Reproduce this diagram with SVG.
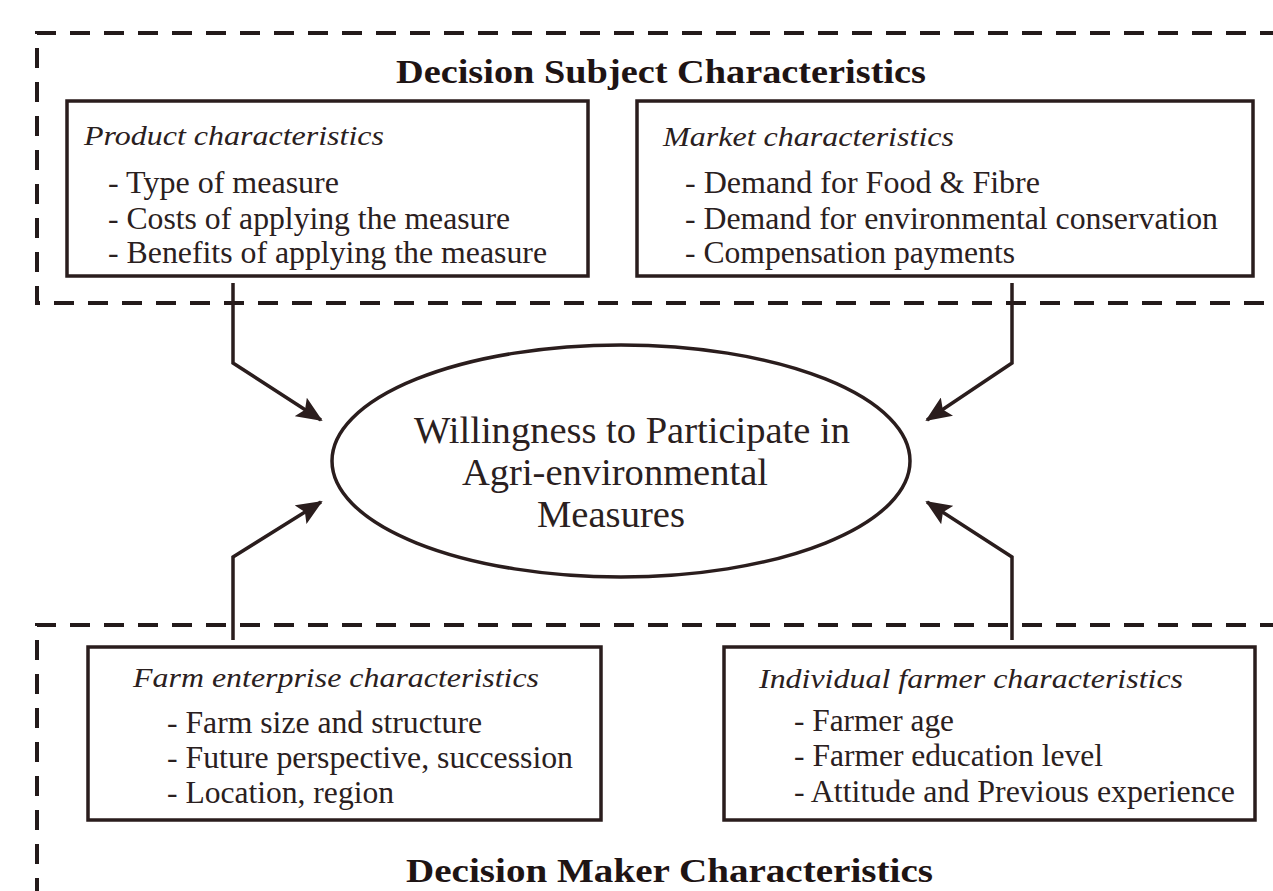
<svg xmlns="http://www.w3.org/2000/svg" width="1273" height="891" viewBox="0 0 1273 891">
<style>
.bg{fill:#ffffff}
.dash{fill:none;stroke:#231a1a;stroke-width:4;stroke-dasharray:20 14}
.box{fill:#ffffff;stroke:#2a1d1d;stroke-width:3.5}
.conn{fill:none;stroke:#2a1d1d;stroke-width:3.5}
text{font-family:'Liberation Serif','Times New Roman',Times,serif}
.title{font-weight:bold;font-size:33px;fill:#1e1414}
.head{font-style:italic;font-size:28px;fill:#2a2020}
.item{font-size:31px;fill:#2a2020}
.ell{font-size:37px;fill:#2a2020}
</style>
<defs>
<marker id="ah" markerUnits="userSpaceOnUse" markerWidth="26" markerHeight="22" refX="24" refY="11" orient="auto">
<path d="M0,0 L26,11 L0,22 L5,11 Z" fill="#2a1d1d"/>
</marker>
</defs>
<rect class="bg" x="0" y="0" width="1273" height="891"/>
<g id="group-subject">
<path class="dash" d="M1280,33 L37,33 L37,303 L1280,303"/>
<text class="title" x="396" y="83" textLength="530" lengthAdjust="spacingAndGlyphs">Decision Subject Characteristics</text>
</g>
<g id="group-maker">
<path class="dash" d="M1280,625 L37,625 L37,893 L1280,893"/>
<text class="title" x="406" y="882" textLength="527" lengthAdjust="spacingAndGlyphs">Decision Maker Characteristics</text>
</g>
<g id="connectors">
<path class="conn" d="M233,283 L233,363 L321,420" marker-end="url(#ah)"/>
<path class="conn" d="M1012,283 L1012,363 L927,420" marker-end="url(#ah)"/>
<path class="conn" d="M233,640 L233,557 L321,502" marker-end="url(#ah)"/>
<path class="conn" d="M1012,640 L1012,557 L927,502" marker-end="url(#ah)"/>
</g>
<g id="node-product">
<rect class="box" x="67" y="101" width="521" height="175"/>
<text class="head" x="84" y="145" textLength="300" lengthAdjust="spacingAndGlyphs">Product characteristics</text>
<text class="item" x="108" y="193" textLength="231" lengthAdjust="spacingAndGlyphs">- Type of measure</text>
<text class="item" x="108" y="229" textLength="402" lengthAdjust="spacingAndGlyphs">- Costs of applying the measure</text>
<text class="item" x="108" y="263" textLength="439" lengthAdjust="spacingAndGlyphs">- Benefits of applying the measure</text>
</g>
<g id="node-market">
<rect class="box" x="637" y="101" width="616" height="175"/>
<text class="head" x="663" y="146" textLength="291" lengthAdjust="spacingAndGlyphs">Market characteristics</text>
<text class="item" x="685" y="193" textLength="355" lengthAdjust="spacingAndGlyphs">- Demand for Food &amp; Fibre</text>
<text class="item" x="685" y="229" textLength="533" lengthAdjust="spacingAndGlyphs">- Demand for environmental conservation</text>
<text class="item" x="685" y="263" textLength="330" lengthAdjust="spacingAndGlyphs">- Compensation payments</text>
</g>
<g id="node-willingness">
<ellipse cx="621" cy="461" rx="289" ry="116" fill="#ffffff" stroke="#2a1d1d" stroke-width="3.5"/>
<text class="ell" x="414" y="443" textLength="436" lengthAdjust="spacingAndGlyphs">Willingness to Participate in</text>
<text class="ell" x="462" y="485" textLength="306" lengthAdjust="spacingAndGlyphs">Agri-environmental</text>
<text class="ell" x="537" y="527" textLength="148" lengthAdjust="spacingAndGlyphs">Measures</text>
</g>
<g id="node-farm">
<rect class="box" x="88" y="647" width="513" height="173"/>
<text class="head" x="133" y="687" textLength="406" lengthAdjust="spacingAndGlyphs">Farm enterprise characteristics</text>
<text class="item" x="167" y="733" textLength="315" lengthAdjust="spacingAndGlyphs">- Farm size and structure</text>
<text class="item" x="167" y="768" textLength="406" lengthAdjust="spacingAndGlyphs">- Future perspective, succession</text>
<text class="item" x="167" y="803" textLength="227" lengthAdjust="spacingAndGlyphs">- Location, region</text>
</g>
<g id="node-individual">
<rect class="box" x="724" y="647" width="531" height="173"/>
<text class="head" x="759" y="688" textLength="424" lengthAdjust="spacingAndGlyphs">Individual farmer characteristics</text>
<text class="item" x="794" y="731" textLength="160" lengthAdjust="spacingAndGlyphs">- Farmer age</text>
<text class="item" x="794" y="766" textLength="309" lengthAdjust="spacingAndGlyphs">- Farmer education level</text>
<text class="item" x="794" y="802" textLength="441" lengthAdjust="spacingAndGlyphs">- Attitude and Previous experience</text>
</g>
</svg>
